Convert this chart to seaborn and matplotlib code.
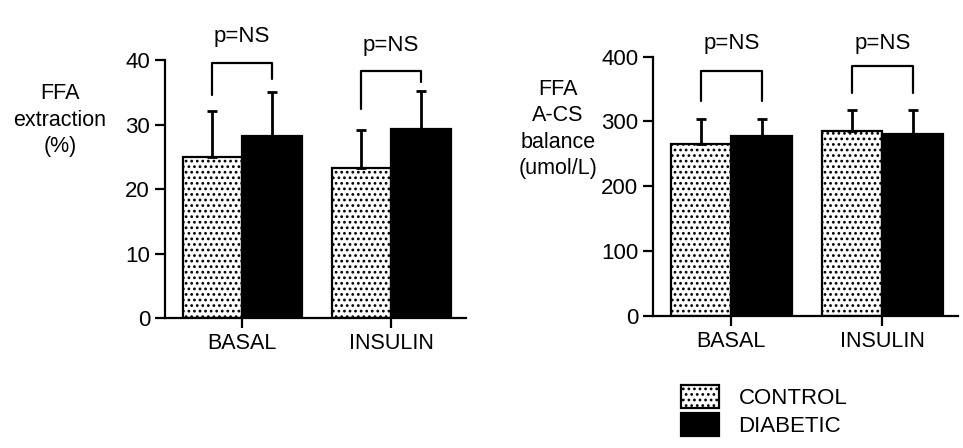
import pandas as pd
import numpy as np
import seaborn as sns
import matplotlib.pyplot as plt
from matplotlib.patches import Patch

sns.set_theme(style="white")
plt.rcParams['font.family'] = ['Liberation Sans', 'DejaVu Sans']
plt.rcParams['hatch.linewidth'] = 1.2
for k in ["text.color", "axes.labelcolor", "xtick.color", "ytick.color"]:
    plt.rcParams[k] = "black"

# data
periods = ["BASAL", "INSULIN"]
groups = ["CONTROL", "DIABETIC"]
extraction_control = [25.0, 23.3]
extraction_diabetic = [28.2, 29.3]
extraction_err_control = [7.1, 5.8]
extraction_err_diabetic = [6.9, 5.9]
balance_control = [265, 286]
balance_diabetic = [277, 281]
balance_err_control = [39, 31]
balance_err_diabetic = [27, 36]

# brackets: (top, left leg bottom, right leg bottom, text y)
extraction_brackets = [(39.6, 34.6, 37.1, 43.7), (38.3, 32.4, 36.6, 42.3)]
balance_brackets = [(378, 332, 332, 421), (386, 344, 344, 421)]


def make_df(ctrl, diab):
    return pd.DataFrame({
        "period": periods * 2,
        "group": [groups[0]] * 2 + [groups[1]] * 2,
        "value": list(ctrl) + list(diab),
    })


def draw(ax, df, err_c, err_d, brackets, ylim, yticks, capsize):
    sns.barplot(data=df, x="period", y="value", hue="group", order=periods,
                hue_order=groups, palette=["white", "black"], errorbar=None,
                width=0.8, edgecolor="black", linewidth=1.6, ax=ax, legend=False)
    bars = ax.patches[:4]
    bars[0].set_hatch("...")
    bars[1].set_hatch("...")
    errs = list(err_c) + list(err_d)
    for b, e in zip(bars, errs):
        cx = b.get_x() + b.get_width() / 2
        top = b.get_height()
        ax.errorbar(cx, top, yerr=[[0], [e]], fmt="none", ecolor="black",
                    elinewidth=2, capsize=capsize, capthick=2, zorder=3)
    for i, (t, l, r, ty) in enumerate(brackets):
        xl = bars[i].get_x() + bars[i].get_width() / 2
        xr = bars[i + 2].get_x() + bars[i + 2].get_width() / 2
        ax.plot([xl, xl, xr, xr], [l, t, t, r], color="black", lw=1.6,
                clip_on=False)
        ax.text((xl + xr) / 2, ty, "p=NS", ha="center", va="center",
                fontsize=16, clip_on=False)
    ax.set_xlim(-0.52, 1.5)
    ax.set_ylim(*ylim)
    ax.set_yticks(yticks)
    ax.set_xlabel("")
    ax.set_ylabel("")
    sns.despine(ax=ax)
    for s in ["left", "bottom"]:
        ax.spines[s].set_linewidth(1.6)
        ax.spines[s].set_color("black")
    ax.tick_params(axis="both", direction="out", length=7, width=1.6,
                   labelsize=16, colors="black", bottom=True, left=True)
    ax.tick_params(axis="x", labelsize=15.5, pad=4)


fig = plt.figure(figsize=(9.63, 4.48), dpi=100)
ax1 = fig.add_axes([0.171, 0.290, 0.3126, 0.576])
ax2 = fig.add_axes([0.678, 0.2946, 0.3167, 0.579])

draw(ax1, make_df(extraction_control, extraction_diabetic),
     extraction_err_control, extraction_err_diabetic, extraction_brackets,
     (0, 40), [0, 10, 20, 30, 40], 3.8)
draw(ax2, make_df(balance_control, balance_diabetic),
     balance_err_control, balance_err_diabetic, balance_brackets,
     (0, 400), [0, 100, 200, 300, 400], 3.8)

fig.text(60 / 963, 1 - 120 / 448, "FFA\nextraction\n(%)", ha="center",
         va="center", fontsize=15.5, linespacing=1.35)
fig.text(558 / 963, 1 - 129 / 448, "FFA\nA-CS\nbalance\n(umol/L)",
         ha="center", va="center", fontsize=15.5, linespacing=1.35)

handles = [Patch(facecolor="white", edgecolor="black", hatch="...", lw=1.6),
           Patch(facecolor="black", edgecolor="black", lw=1.6)]
fig.legend(handles, groups, loc="upper left",
           bbox_to_anchor=(663 / 963, 1 - 367 / 448), frameon=False,
           fontsize=16, handlelength=1.7, handleheight=1.2,
           handletextpad=0.9, labelspacing=0.2, borderpad=0.3)

fig.savefig("out.png", dpi=100)
